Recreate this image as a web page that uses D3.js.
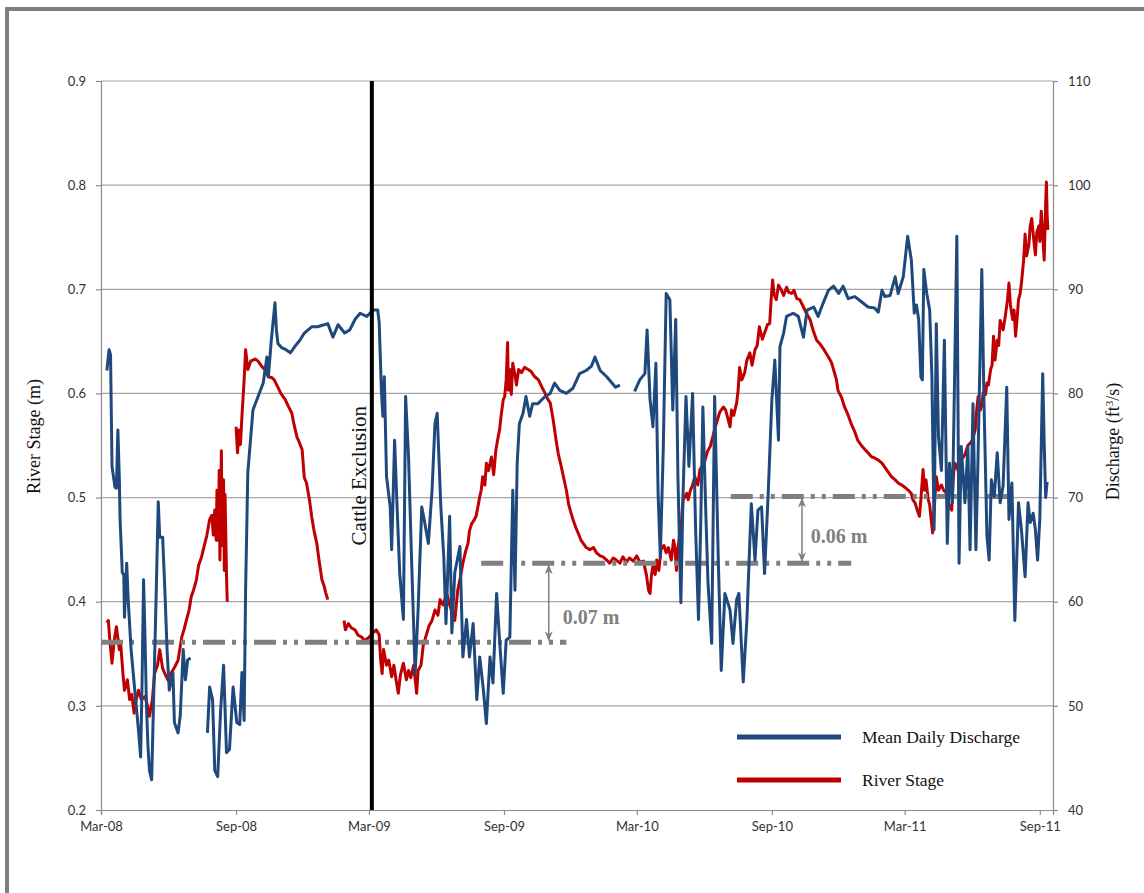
<!DOCTYPE html>
<html>
<head>
<meta charset="utf-8">
<script src="https://cdn.jsdelivr.net/npm/d3@7"></script>
<style>
  body { margin: 0; background: #fff; }
  svg { display: block; }
</style>
</head>
<body>
<svg id="chart" width="1144" height="893"></svg>
<script>
'use strict';

// mean daily discharge (ft3/s); null = no record
const discharge = [
  ['2008-03-09',82.2],['2008-03-12',84.2],['2008-03-14',83.7],['2008-03-16',73.0],['2008-03-20',71.0],
  ['2008-03-22',70.9],['2008-03-24',76.5],['2008-03-26',71.7],['2008-03-27',67.9],['2008-03-30',62.8],
  ['2008-04-01',62.6],['2008-04-02',58.5],['2008-04-05',63.7],['2008-04-07',60.2],['2008-04-11',55.4],
  ['2008-04-16',51.5],['2008-04-21',47.7],['2008-04-24',45.1],['2008-04-26',52.5],['2008-04-28',62.1],
  ['2008-04-30',56.4],['2008-05-02',49.9],['2008-05-04',46.1],['2008-05-06',43.8],['2008-05-09',42.9],
  ['2008-05-12',51.5],['2008-05-15',60.2],['2008-05-18',69.6],['2008-05-20',66.2],['2008-05-24',66.2],
  ['2008-05-27',61.1],['2008-05-30',55.4],['2008-06-02',51.5],['2008-06-07',53.2],['2008-06-09',48.4],
  ['2008-06-14',47.4],['2008-06-17',49.1],['2008-06-21',55.4],['2008-06-24',52.5],['2008-06-27',54.4],
  ['2008-07-01',54.6],['2008-07-12',null],
  ['2008-07-24',47.4],['2008-07-27',51.8],['2008-07-31',50.6],['2008-08-03',43.8],['2008-08-07',43.2],
  ['2008-08-11',49.6],['2008-08-15',53.9],['2008-08-19',45.5],['2008-08-23',45.8],['2008-08-28',51.8],
  ['2008-09-02',48.4],['2008-09-06',48.2],['2008-09-09',53.2],['2008-09-12',48.6],['2008-09-14',61.1],
  ['2008-09-17',72.4],['2008-09-21',75.8],['2008-09-24',78.4],['2008-10-01',79.7],['2008-10-08',81.0],
  ['2008-10-13',83.5],['2008-10-15',81.6],['2008-10-19',85.1],['2008-10-24',88.7],['2008-10-26',86.1],
  ['2008-10-28',84.8],['2008-11-02',84.4],['2008-11-08',84.2],['2008-11-14',83.9],['2008-11-20',84.5],
  ['2008-11-27',85.1],['2008-12-03',85.8],['2008-12-13',86.4],['2008-12-21',86.4],['2009-01-04',86.7],
  ['2009-01-11',85.4],['2009-01-18',86.6],['2009-01-27',85.8],['2009-02-03',86.1],['2009-02-10',87.1],
  ['2009-02-17',87.7],['2009-02-26',87.4],['2009-03-07',88.0],['2009-03-13',88.0],['2009-03-15',86.8],
  ['2009-03-18',80.3],['2009-03-20',77.8],['2009-03-22',81.6],['2009-03-25',72.0],['2009-03-30',69.1],
  ['2009-04-01',65.0],['2009-04-05',75.5],['2009-04-08',69.8],['2009-04-12',62.7],['2009-04-17',58.3],
  ['2009-04-20',79.7],['2009-04-24',73.9],['2009-04-28',64.3],['2009-05-03',53.1],['2009-05-07',59.2],
  ['2009-05-12',69.1],['2009-05-16',67.6],['2009-05-21',65.6],['2009-05-26',70.7],['2009-05-30',77.1],
  ['2009-06-02',78.1],['2009-06-07',69.1],['2009-06-11',64.3],['2009-06-14',57.9],['2009-06-19',68.2],
  ['2009-06-22',57.0],['2009-06-26',62.8],['2009-07-03',65.3],['2009-07-07',54.7],['2009-07-12',58.3],
  ['2009-07-16',54.7],['2009-07-21',57.9],['2009-07-26',50.6],['2009-07-30',54.7],['2009-08-04',51.5],
  ['2009-08-08',48.3],['2009-08-13',54.7],['2009-08-17',52.2],['2009-08-22',60.8],['2009-08-26',56.3],
  ['2009-08-31',51.2],['2009-09-04',56.3],['2009-09-09',56.6],['2009-09-11',63.7],['2009-09-13',70.7],
  ['2009-09-16',61.1],['2009-09-19',73.3],['2009-09-22',77.1],['2009-09-27',78.1],['2009-10-01',79.7],
  ['2009-10-06',77.8],['2009-10-10',79.0],['2009-10-17',79.0],['2009-10-27',79.7],['2009-11-03',80.0],
  ['2009-11-09',81.0],['2009-11-16',80.3],['2009-11-25',80.0],['2009-12-04',80.5],['2009-12-13',81.9],
  ['2009-12-22',82.2],['2009-12-29',82.6],['2010-01-03',83.5],['2010-01-10',82.2],['2010-01-19',81.6],
  ['2010-01-31',80.6],['2010-02-06',80.8],['2010-02-16',null],
  ['2010-02-26',80.2],['2010-03-05',81.3],['2010-03-12',81.9],['2010-03-15',86.1],['2010-03-19',79.4],
  ['2010-03-23',76.8],['2010-03-27',82.9],['2010-03-30',70.4],['2010-04-02',64.3],['2010-04-06',74.6],
  ['2010-04-10',89.6],['2010-04-15',89.0],['2010-04-19',78.4],['2010-04-23',87.1],['2010-04-26',72.0],
  ['2010-04-30',59.9],['2010-05-03',70.4],['2010-05-07',79.7],['2010-05-11',73.0],['2010-05-16',80.0],
  ['2010-05-20',67.2],['2010-05-24',58.3],['2010-05-27',67.2],['2010-05-30',78.7],['2010-06-03',68.5],
  ['2010-06-06',61.8],['2010-06-11',56.0],['2010-06-15',79.7],['2010-06-20',64.0],['2010-06-24',53.4],
  ['2010-06-29',60.8],['2010-07-06',59.2],['2010-07-10',56.0],['2010-07-15',60.2],['2010-07-18',60.8],
  ['2010-07-24',52.3],['2010-07-29',58.3],['2010-08-01',64.0],['2010-08-04',69.4],['2010-08-09',64.0],
  ['2010-08-13',68.8],['2010-08-18',69.1],['2010-08-22',62.7],['2010-08-27',70.4],['2010-09-01',79.4],
  ['2010-09-05',83.2],['2010-09-10',75.5],['2010-09-12',84.5],['2010-09-17',85.8],['2010-09-21',87.4],
  ['2010-09-30',87.7],['2010-10-07',87.4],['2010-10-14',85.4],['2010-10-19',88.0],['2010-10-28',88.3],
  ['2010-11-03',87.4],['2010-11-10',88.7],['2010-11-17',89.9],['2010-11-24',90.3],['2010-12-01',89.6],
  ['2010-12-07',90.3],['2010-12-14',89.1],['2010-12-23',89.3],['2011-01-01',88.8],['2011-01-10',88.3],
  ['2011-01-19',88.2],['2011-01-24',87.8],['2011-01-29',89.9],['2011-02-02',89.3],['2011-02-09',89.4],
  ['2011-02-16',91.2],['2011-02-20',89.6],['2011-02-27',91.2],['2011-03-05',95.1],['2011-03-10',92.8],
  ['2011-03-14',87.7],['2011-03-17',88.5],['2011-03-20',87.1],['2011-03-23',81.6],['2011-03-25',81.3],
  ['2011-03-27',91.9],['2011-03-31',89.6],['2011-04-04',88.0],['2011-04-07',81.6],['2011-04-10',66.9],
  ['2011-04-13',86.7],['2011-04-16',75.8],['2011-04-20',72.6],['2011-04-24',85.1],['2011-04-28',65.6],
  ['2011-05-01',73.3],['2011-05-05',69.5],['2011-05-07',77.5],['2011-05-11',95.1],['2011-05-14',63.7],
  ['2011-05-17',74.9],['2011-05-22',69.5],['2011-05-26',74.9],['2011-05-29',65.0],['2011-06-02',79.0],
  ['2011-06-06',65.0],['2011-06-09',74.3],['2011-06-14',91.9],['2011-06-17',79.1],['2011-06-21',66.3],
  ['2011-06-24',64.0],['2011-06-27',71.7],['2011-07-01',70.1],['2011-07-05',74.3],['2011-07-09',69.5],
  ['2011-07-13',71.1],['2011-07-18',80.6],['2011-07-21',67.9],['2011-07-25',71.4],['2011-07-29',58.2],
  ['2011-08-03',69.5],['2011-08-07',66.9],['2011-08-12',62.4],['2011-08-16',69.5],['2011-08-19',67.6],
  ['2011-08-23',68.5],['2011-08-26',66.9],['2011-08-29',64.0],['2011-09-01',67.9],['2011-09-05',81.9],
  ['2011-09-07',75.2],['2011-09-09',70.0],['2011-09-11',71.5]
];

// river stage (m); null = no record
const stage = [
  ['2008-03-09',0.380],['2008-03-11',0.382],['2008-03-13',0.363],['2008-03-16',0.341],['2008-03-19',0.363],
  ['2008-03-22',0.376],['2008-03-26',0.354],['2008-03-28',0.358],['2008-03-31',0.330],['2008-04-02',0.315],
  ['2008-04-06',0.325],['2008-04-09',0.306],['2008-04-12',0.311],['2008-04-15',0.293],['2008-04-18',0.306],
  ['2008-04-21',0.315],['2008-04-25',0.306],['2008-04-30',0.309],['2008-05-03',0.301],['2008-05-06',0.290],
  ['2008-05-10',0.306],['2008-05-13',0.331],['2008-05-17',0.339],['2008-05-20',0.354],['2008-05-24',0.336],
  ['2008-05-27',0.331],['2008-05-31',0.325],['2008-06-05',0.332],['2008-06-10',0.338],['2008-06-14',0.344],
  ['2008-06-19',0.366],['2008-06-22',0.373],['2008-06-26',0.384],['2008-06-29',0.392],['2008-07-02',0.405],
  ['2008-07-05',0.411],['2008-07-09',0.421],['2008-07-12',0.435],['2008-07-16',0.443],['2008-07-19',0.452],
  ['2008-07-23',0.463],['2008-07-25',0.471],['2008-07-27',0.479],['2008-07-30',0.483],['2008-08-01',0.464],
  ['2008-08-03',0.488],['2008-08-05',0.459],['2008-08-06',0.507],['2008-08-08',0.459],['2008-08-09',0.526],
  ['2008-08-10',0.440],['2008-08-12',0.545],['2008-08-13',0.454],['2008-08-15',0.517],['2008-08-16',0.430],
  ['2008-08-17',0.503],['2008-08-19',0.425],['2008-08-20',0.400],['2008-08-25',null],
  ['2008-09-01',0.568],['2008-09-03',0.543],['2008-09-05',0.565],['2008-09-07',0.551],['2008-09-09',0.578],
  ['2008-09-12',0.613],['2008-09-14',0.642],['2008-09-17',0.623],['2008-09-21',0.631],['2008-09-27',0.633],
  ['2008-10-01',0.631],['2008-10-06',0.626],['2008-10-10',0.623],['2008-10-15',0.616],['2008-10-20',0.615],
  ['2008-10-23',0.613],['2008-10-28',0.606],['2008-11-01',0.600],['2008-11-07',0.594],['2008-11-11',0.588],
  ['2008-11-16',0.581],['2008-11-19',0.570],['2008-11-23',0.558],['2008-11-25',0.555],['2008-11-30',0.546],
  ['2008-12-03',0.519],['2008-12-06',0.514],['2008-12-10',0.498],['2008-12-13',0.482],['2008-12-16',0.469],
  ['2008-12-20',0.456],['2008-12-23',0.440],['2008-12-27',0.421],['2008-12-30',0.415],['2009-01-01',0.409],
  ['2009-01-04',0.402],['2009-01-15',null],
  ['2009-01-26',0.382],['2009-01-28',0.373],['2009-02-01',0.379],['2009-02-05',0.375],['2009-02-10',0.373],
  ['2009-02-14',0.368],['2009-02-19',0.366],['2009-02-23',0.363],['2009-02-28',0.365],['2009-03-05',0.369],
  ['2009-03-11',0.373],['2009-03-15',0.368],['2009-03-17',0.344],['2009-03-19',0.331],['2009-03-21',0.354],
  ['2009-03-25',0.339],['2009-03-28',0.344],['2009-04-01',0.328],['2009-04-04',0.339],['2009-04-07',0.325],
  ['2009-04-10',0.312],['2009-04-13',0.330],['2009-04-17',0.341],['2009-04-21',0.325],['2009-04-24',0.334],
  ['2009-04-27',0.327],['2009-05-01',0.339],['2009-05-05',0.312],['2009-05-07',0.334],['2009-05-11',0.339],
  ['2009-05-14',0.358],['2009-05-19',0.370],['2009-05-22',0.377],['2009-05-26',0.382],['2009-05-30',0.392],
  ['2009-06-03',0.387],['2009-06-06',0.402],['2009-06-10',0.397],['2009-06-15',0.408],['2009-06-19',0.397],
  ['2009-06-22',0.390],['2009-06-26',0.382],['2009-06-30',0.411],['2009-07-04',0.425],['2009-07-07',0.437],
  ['2009-07-11',0.449],['2009-07-14',0.456],['2009-07-16',0.468],['2009-07-19',0.475],['2009-07-22',0.478],
  ['2009-07-25',0.482],['2009-07-28',0.493],['2009-07-30',0.501],['2009-08-01',0.507],['2009-08-03',0.520],
  ['2009-08-06',0.512],['2009-08-08',0.533],['2009-08-11',0.526],['2009-08-15',0.539],['2009-08-18',0.522],
  ['2009-08-21',0.546],['2009-08-24',0.558],['2009-08-26',0.565],['2009-08-28',0.578],['2009-08-31',0.594],
  ['2009-09-02',0.597],['2009-09-04',0.613],['2009-09-06',0.649],['2009-09-07',0.603],['2009-09-09',0.623],
  ['2009-09-11',0.599],['2009-09-13',0.629],['2009-09-16',0.618],['2009-09-18',0.608],['2009-09-21',0.623],
  ['2009-09-25',0.620],['2009-09-29',0.625],['2009-10-04',0.623],['2009-10-08',0.621],['2009-10-13',0.616],
  ['2009-10-18',0.613],['2009-10-22',0.607],['2009-10-27',0.600],['2009-10-31',0.594],['2009-11-03',0.591],
  ['2009-11-07',0.575],['2009-11-11',0.555],['2009-11-14',0.542],['2009-11-18',0.530],['2009-11-21',0.520],
  ['2009-11-25',0.507],['2009-11-28',0.494],['2009-12-01',0.486],['2009-12-04',0.479],['2009-12-08',0.471],
  ['2009-12-11',0.466],['2009-12-15',0.459],['2009-12-18',0.456],['2009-12-22',0.452],['2009-12-27',0.450],
  ['2010-01-01',0.452],['2010-01-05',0.447],['2010-01-10',0.444],['2010-01-14',0.443],['2010-01-19',0.440],
  ['2010-01-23',0.437],['2010-01-28',0.442],['2010-02-01',0.440],['2010-02-06',0.437],['2010-02-10',0.443],
  ['2010-02-15',0.438],['2010-02-19',0.442],['2010-02-24',0.439],['2010-03-01',0.444],['2010-03-05',0.438],
  ['2010-03-10',0.439],['2010-03-14',0.426],['2010-03-17',0.411],['2010-03-19',0.408],['2010-03-21',0.426],
  ['2010-03-23',0.434],['2010-03-26',0.426],['2010-03-28',0.440],['2010-03-31',0.430],['2010-04-03',0.450],
  ['2010-04-07',0.454],['2010-04-10',0.447],['2010-04-13',0.452],['2010-04-17',0.440],['2010-04-20',0.459],
  ['2010-04-22',0.452],['2010-04-24',0.430],['2010-04-26',0.450],['2010-04-29',0.469],['2010-05-01',0.479],
  ['2010-05-03',0.498],['2010-05-08',0.504],['2010-05-10',0.498],['2010-05-13',0.507],['2010-05-16',0.512],
  ['2010-05-19',0.520],['2010-05-23',0.512],['2010-05-26',0.527],['2010-05-30',0.531],['2010-06-02',0.536],
  ['2010-06-05',0.544],['2010-06-09',0.549],['2010-06-12',0.557],['2010-06-16',0.568],['2010-06-19',0.575],
  ['2010-06-22',0.582],['2010-06-27',0.587],['2010-06-30',0.584],['2010-07-03',0.576],['2010-07-06',0.568],
  ['2010-07-08',0.584],['2010-07-11',0.579],['2010-07-15',0.591],['2010-07-17',0.603],['2010-07-19',0.625],
  ['2010-07-22',0.613],['2010-07-26',0.620],['2010-07-29',0.632],['2010-08-02',0.639],['2010-08-05',0.627],
  ['2010-08-09',0.642],['2010-08-12',0.646],['2010-08-15',0.664],['2010-08-19',0.652],['2010-08-22',0.658],
  ['2010-08-26',0.666],['2010-08-29',0.667],['2010-08-31',0.690],['2010-09-02',0.709],['2010-09-04',0.695],
  ['2010-09-07',0.690],['2010-09-10',0.704],['2010-09-14',0.699],['2010-09-17',0.694],['2010-09-21',0.702],
  ['2010-09-24',0.697],['2010-09-28',0.696],['2010-10-01',0.699],['2010-10-05',0.691],['2010-10-09',0.690],
  ['2010-10-14',0.683],['2010-10-18',0.677],['2010-10-23',0.671],['2010-10-27',0.661],['2010-11-01',0.651],
  ['2010-11-05',0.648],['2010-11-11',0.642],['2010-11-17',0.635],['2010-11-21',0.630],['2010-11-24',0.623],
  ['2010-11-28',0.613],['2010-11-30',0.603],['2010-12-05',0.596],['2010-12-09',0.587],['2010-12-14',0.579],
  ['2010-12-18',0.571],['2010-12-23',0.563],['2010-12-27',0.555],['2011-01-01',0.550],['2011-01-06',0.546],
  ['2011-01-10',0.543],['2011-01-15',0.539],['2011-01-19',0.538],['2011-01-24',0.536],['2011-01-29',0.533],
  ['2011-02-02',0.529],['2011-02-07',0.524],['2011-02-11',0.520],['2011-02-16',0.517],['2011-02-20',0.514],
  ['2011-02-25',0.512],['2011-03-01',0.510],['2011-03-06',0.507],['2011-03-10',0.504],['2011-03-12',0.498],
  ['2011-03-15',0.495],['2011-03-18',0.488],['2011-03-21',0.482],['2011-03-23',0.498],['2011-03-26',0.527],
  ['2011-03-28',0.507],['2011-03-30',0.517],['2011-04-02',0.498],['2011-04-04',0.493],['2011-04-06',0.479],
  ['2011-04-08',0.466],['2011-04-11',0.498],['2011-04-13',0.520],['2011-04-16',0.507],['2011-04-20',0.512],
  ['2011-04-23',0.507],['2011-04-27',0.504],['2011-04-30',0.493],['2011-05-04',0.488],['2011-05-06',0.517],
  ['2011-05-08',0.533],['2011-05-12',0.527],['2011-05-15',0.546],['2011-05-19',0.538],['2011-05-22',0.541],
  ['2011-05-26',0.550],['2011-05-29',0.552],['2011-06-01',0.555],['2011-06-05',0.565],['2011-06-07',0.584],
  ['2011-06-09',0.597],['2011-06-12',0.584],['2011-06-14',0.589],['2011-06-16',0.601],['2011-06-19',0.599],
  ['2011-06-21',0.610],['2011-06-23',0.608],['2011-06-26',0.623],['2011-06-28',0.627],['2011-06-30',0.655],
  ['2011-07-02',0.632],['2011-07-05',0.651],['2011-07-07',0.646],['2011-07-09',0.670],['2011-07-13',0.661],
  ['2011-07-16',0.674],['2011-07-19',0.690],['2011-07-21',0.706],['2011-07-23',0.685],['2011-07-26',0.671],
  ['2011-07-28',0.680],['2011-07-30',0.655],['2011-08-01',0.671],['2011-08-03',0.690],['2011-08-05',0.695],
  ['2011-08-07',0.706],['2011-08-10',0.728],['2011-08-12',0.753],['2011-08-14',0.732],['2011-08-17',0.742],
  ['2011-08-19',0.761],['2011-08-21',0.768],['2011-08-24',0.746],['2011-08-26',0.733],['2011-08-28',0.755],
  ['2011-08-31',0.761],['2011-09-01',0.746],['2011-09-03',0.775],['2011-09-05',0.752],['2011-09-07',0.728],
  ['2011-09-09',0.782],['2011-09-10',0.803],['2011-09-11',0.771],['2011-09-12',0.757]
];

// mean stage levels (m) drawn as dash-dot-dot guides
const levelValues = [0.361, 0.437, 0.501];
const levelStarts = ['2008-03-01', '2009-08-01', '2010-07-07'];
const levelEnds = ['2009-11-25', '2010-12-18', '2011-07-20'];

// step annotations between levels
const stepLabels = ['0.07 m', '0.06 m'];
const stepDates = ['2009-11-01', '2010-10-12'];
const stepLow = [0.361, 0.437];
const stepHigh = [0.437, 0.501];
const stepLabelDates = ['2009-11-20', '2010-10-24'];
const stepLabelStage = [0.383, 0.461];

const exclusionDate = '2009-03-05';
const stageTicks = [0.2, 0.3, 0.4, 0.5, 0.6, 0.7, 0.8, 0.9];
const dischargeTicks = [40, 50, 60, 70, 80, 90, 100, 110];
const dateTicks = ['2008-03-01', '2008-09-01', '2009-03-01', '2009-09-01',
                   '2010-03-01', '2010-09-01', '2011-03-01', '2011-09-01'];

const parse = d3.timeParse('%Y-%m-%d');
const blue = '#1f497d';
const red = '#c00000';
const grey = '#7f7f7f';
const sans = 'Lato, "Open Sans", sans-serif';
const serif = '"Liberation Serif", "DejaVu Serif", serif';

const svg = d3.select('#chart');
const plotL = 101, plotR = 1053, plotT = 81, plotB = 810;

const x = d3.scaleTime()
  .domain([parse('2008-03-01'), parse('2011-09-19')])
  .range([plotL, plotR]);
const yStage = d3.scaleLinear().domain([0.2, 0.9]).range([plotB, plotT]);
const yFlow = d3.scaleLinear().domain([40, 110]).range([plotB, plotT]);

// outer frame (only the top and left edges fall inside the picture)
svg.append('rect')
  .attr('x', 7).attr('y', 9).attr('width', 1300).attr('height', 1000)
  .attr('fill', '#fff').attr('stroke', grey).attr('stroke-width', 4);

// gridlines
svg.append('g').selectAll('line').data(stageTicks.slice(1)).join('line')
  .attr('x1', plotL).attr('x2', plotR)
  .attr('y1', d => yStage(d)).attr('y2', d => yStage(d))
  .attr('stroke', '#a6a6a6').attr('stroke-width', 1.2);

// axes
const axisL = svg.append('g').attr('transform', `translate(${plotL},0)`)
  .call(d3.axisLeft(yStage).tickValues(stageTicks).tickFormat(d3.format('.1f')).tickSize(5).tickPadding(10));
const axisR = svg.append('g').attr('transform', `translate(${plotR},0)`)
  .call(d3.axisRight(yFlow).tickValues(dischargeTicks).tickSize(5).tickPadding(10));
const axisB = svg.append('g').attr('transform', `translate(0,${plotB})`)
  .call(d3.axisBottom(x).tickValues(dateTicks.map(parse)).tickFormat(d3.timeFormat('%b-%y')).tickSize(5).tickPadding(7));

for (const a of [axisL, axisR, axisB]) {
  a.select('.domain').attr('stroke', '#8c8c8c').attr('stroke-width', 1.2);
  a.selectAll('.tick line').attr('stroke', '#8c8c8c').attr('stroke-width', 1.2);
  a.selectAll('.tick text').attr('fill', '#333').style('font-family', sans).style('font-size', '13px');
}

// axis titles
svg.append('text')
  .attr('transform', `translate(40,${(plotT + plotB) / 2 - 9}) rotate(-90)`)
  .attr('text-anchor', 'middle')
  .style('font-family', serif).style('font-size', '18px').attr('fill', '#111')
  .text('River Stage (m)');

const rTitle = svg.append('text')
  .attr('transform', `translate(1119,${(plotT + plotB) / 2 - 4}) rotate(-90)`)
  .attr('text-anchor', 'middle')
  .style('font-family', serif).style('font-size', '18px').attr('fill', '#111');
rTitle.append('tspan').text('Discharge (ft');
rTitle.append('tspan').attr('dy', -6).style('font-size', '11px').text('3');
rTitle.append('tspan').attr('dy', 6).text('/s)');

// series
const stageLine = d3.line()
  .defined(d => d[1] !== null)
  .x(d => x(parse(d[0])))
  .y(d => yStage(d[1]));
const flowLine = d3.line()
  .defined(d => d[1] !== null)
  .x(d => x(parse(d[0])))
  .y(d => yFlow(d[1]));

svg.append('path').datum(stage)
  .attr('d', stageLine)
  .attr('fill', 'none').attr('stroke', red).attr('stroke-width', 3)
  .attr('stroke-linejoin', 'round');

// dash-dot-dot level guides
svg.append('g').selectAll('line').data(levelValues).join('line')
  .attr('x1', (d, i) => x(parse(levelStarts[i])))
  .attr('x2', (d, i) => x(parse(levelEnds[i])))
  .attr('y1', d => yStage(d)).attr('y2', d => yStage(d))
  .attr('stroke', grey).attr('stroke-width', 5)
  .attr('stroke-dasharray', '22,7,4,7,4,7');

svg.append('path').datum(discharge)
  .attr('d', flowLine)
  .attr('fill', 'none').attr('stroke', blue).attr('stroke-width', 3)
  .attr('stroke-linejoin', 'round');

// step arrows
const defs = svg.append('defs');
defs.append('marker')
  .attr('id', 'tip').attr('viewBox', '0 0 10 10')
  .attr('refX', 9).attr('refY', 5)
  .attr('markerWidth', 10).attr('markerHeight', 10)
  .attr('markerUnits', 'userSpaceOnUse')
  .attr('orient', 'auto-start-reverse')
  .append('path').attr('d', 'M0,1 L10,5 L0,9 L3,5 Z').attr('fill', grey);

const steps = svg.append('g');
stepLabels.forEach((label, i) => {
  const sx = x(parse(stepDates[i]));
  steps.append('line')
    .attr('x1', sx).attr('x2', sx)
    .attr('y1', yStage(stepLow[i]) - 2).attr('y2', yStage(stepHigh[i]) + 2)
    .attr('stroke', grey).attr('stroke-width', 1.5)
    .attr('marker-start', 'url(#tip)').attr('marker-end', 'url(#tip)');
  steps.append('text')
    .attr('x', x(parse(stepLabelDates[i]))).attr('y', yStage(stepLabelStage[i]))
    .attr('dominant-baseline', 'middle')
    .style('font-family', serif).style('font-size', '20px').style('font-weight', 'bold')
    .attr('fill', grey)
    .text(label);
});

// cattle exclusion marker
const ex = x(parse(exclusionDate));
svg.append('line')
  .attr('x1', ex).attr('x2', ex).attr('y1', plotT).attr('y2', plotB)
  .attr('stroke', '#000').attr('stroke-width', 4);
svg.append('text')
  .attr('transform', `translate(${ex - 6},${yStage(0.521)}) rotate(-90)`)
  .attr('text-anchor', 'middle')
  .style('font-family', serif).style('font-size', '21px').attr('fill', '#111')
  .text('Cattle Exclusion');

// legend
const legendItems = [['Mean Daily Discharge', blue, 737], ['River Stage', red, 780]];
const legend = svg.append('g');
legendItems.forEach(([name, color, ly]) => {
  legend.append('line')
    .attr('x1', 737).attr('x2', 841).attr('y1', ly).attr('y2', ly)
    .attr('stroke', color).attr('stroke-width', 5);
  legend.append('text')
    .attr('x', 862).attr('y', ly + 6)
    .style('font-family', serif).style('font-size', '17.5px').attr('fill', '#111')
    .text(name);
});
</script>
</body>
</html>
